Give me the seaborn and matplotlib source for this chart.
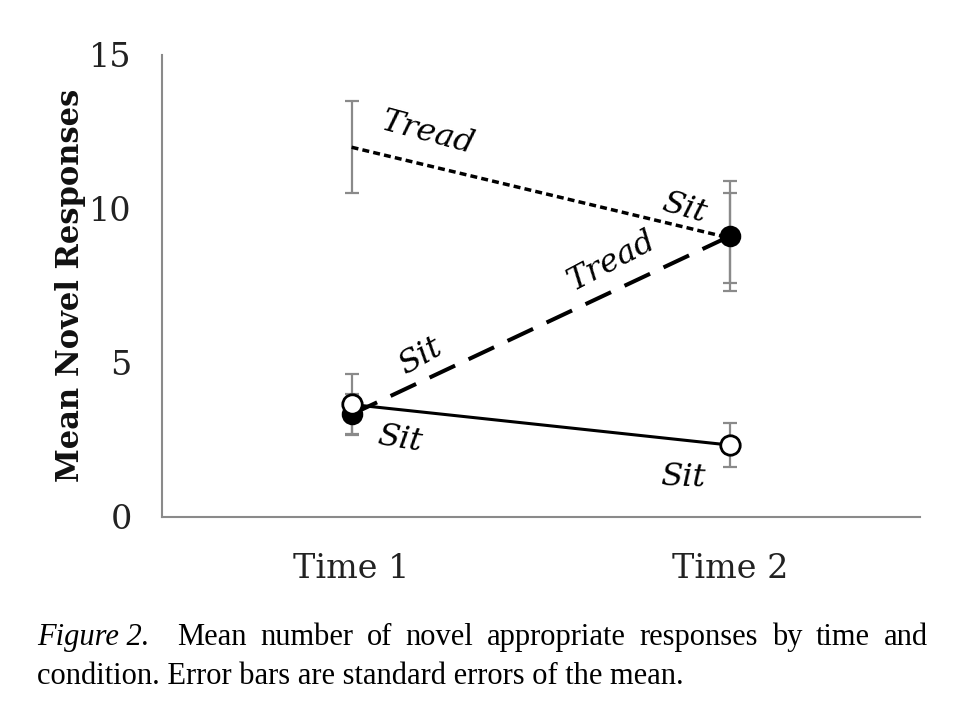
import matplotlib
matplotlib.use("Agg")
import matplotlib.pyplot as plt
import seaborn as sns
import pandas as pd

# data
times = ["Time 1", "Time 2"]
conditions = ["Tread-Sit", "Sit-Tread", "Sit-Sit"]
tread_sit_mean = [12.0, 9.05]
tread_sit_sem = [1.5, 1.45]
sit_tread_mean = [3.33, 9.12]
sit_tread_sem = [0.65, 1.78]
sit_sit_mean = [3.65, 2.33]
sit_sit_sem = [1.0, 0.72]
y_ticks = [0, 5, 10, 15]

caption_line1 = [("Figure 2.", "italic"), ("Mean", "normal"), ("number", "normal"),
                 ("of", "normal"), ("novel", "normal"), ("appropriate", "normal"),
                 ("responses", "normal"), ("by", "normal"), ("time", "normal"),
                 ("and", "normal")]
caption_line2 = "condition. Error bars are standard errors of the mean."

sns.set_style("white")
plt.rcParams['font.family'] = ['DejaVu Serif']
plt.rcParams['text.color'] = '#111111'
plt.rcParams['axes.labelcolor'] = '#111111'
plt.rcParams['xtick.labelcolor'] = '#222222'
plt.rcParams['ytick.labelcolor'] = '#222222'

GREY = '#8a8a8a'

fig = plt.figure(figsize=(9.6, 7.12), dpi=100)
ax = fig.add_axes([0.169, 0.274, 0.789, 0.649])

xpos = [i + 0.5 for i in range(len(times))]
df = pd.DataFrame({
    "x": xpos * 3,
    "mean": tread_sit_mean + sit_tread_mean + sit_sit_mean,
    "sem": tread_sit_sem + sit_tread_sem + sit_sit_sem,
    "condition": [c for c in conditions for _ in times],
})

# error bars first, underneath the lines
for cond in conditions:
    sub = df[df["condition"] == cond]
    ax.errorbar(sub["x"], sub["mean"], yerr=sub["sem"], fmt='none',
                ecolor=GREY, elinewidth=1.6, capsize=5, capthick=1.6, zorder=1)

styles = {
    "Tread-Sit": dict(linestyle=(0, (2, 1.2)), lw=2.5, marker=None),
    "Sit-Tread": dict(linestyle=(0, (7, 3.7)), lw=2.9, marker='o', markersize=14,
                      markerfacecolor='black', markeredgecolor='black', markeredgewidth=1.5),
    "Sit-Sit": dict(linestyle='-', lw=2.2, marker='o', markersize=14,
                    markerfacecolor='white', markeredgecolor='black', markeredgewidth=2),
}
for cond in conditions:
    sub = df[df["condition"] == cond]
    sns.lineplot(data=sub, x="x", y="mean", ax=ax, color='black', errorbar=None,
                 sort=False, zorder=3, **styles[cond])

# line labels
label_kw = dict(fontsize=23, style='italic', ha='center', va='center',
                rotation_mode='anchor', color='black')
ax.text(0.70, 12.45, "Tread", rotation=-15, **label_kw)
ax.text(1.377, 10.04, "Sit", rotation=-16, **label_kw)
ax.text(1.187, 8.31, "Tread", rotation=28, **label_kw)
ax.text(0.681, 5.22, "Sit", rotation=30, **label_kw)
ax.text(0.628, 2.51, "Sit", rotation=-9, **label_kw)
ax.text(1.375, 1.30, "Sit", rotation=-2, **label_kw)

# axes
ax.set_xlim(0, len(times))
ax.set_ylim(0, 15)
ax.set_xticks(range(len(times) + 1))
ax.set_xticklabels([])
ax.set_xticks(xpos, minor=True)
ax.set_xticklabels(times, minor=True, fontsize=24)
ax.tick_params(axis='x', which='minor', length=0, pad=26)
ax.tick_params(axis='x', which='major', length=9, width=1.5, color=GREY, direction='out')
ax.set_yticks(y_ticks)
ax.set_yticklabels([str(t) for t in y_ticks], fontsize=24)
ax.tick_params(axis='y', length=9, width=1.5, color=GREY, direction='out', pad=13)
ax.set_xlabel("")
ax.set_ylabel("Mean Novel Responses", fontsize=22, fontweight='bold')
ax.yaxis.set_label_coords(-0.1, 0.5)
sns.despine(ax=ax)
for side in ['left', 'bottom']:
    ax.spines[side].set_color(GREY)
    ax.spines[side].set_linewidth(1.5)

# caption, first line justified
cap_kw = dict(fontsize=22, family='Liberation Serif', va='baseline', color='black')
renderer = fig.canvas.get_renderer()
texts = [fig.text(0, 1 - 645 / 712, w, style=st, **cap_kw) for w, st in caption_line1]
widths = [t.get_window_extent(renderer).width for t in texts]
left, right = 37, 928
weights = [2] + [1] * (len(texts) - 2)
gap = (right - left - sum(widths)) / sum(weights)
x = left
for i, t in enumerate(texts):
    t.set_x(x / 960)
    if i < len(weights):
        x += widths[i] + gap * weights[i]
fig.text(left / 960, 1 - 684 / 712, caption_line2, **cap_kw)

fig.savefig("out.png", dpi=100)
